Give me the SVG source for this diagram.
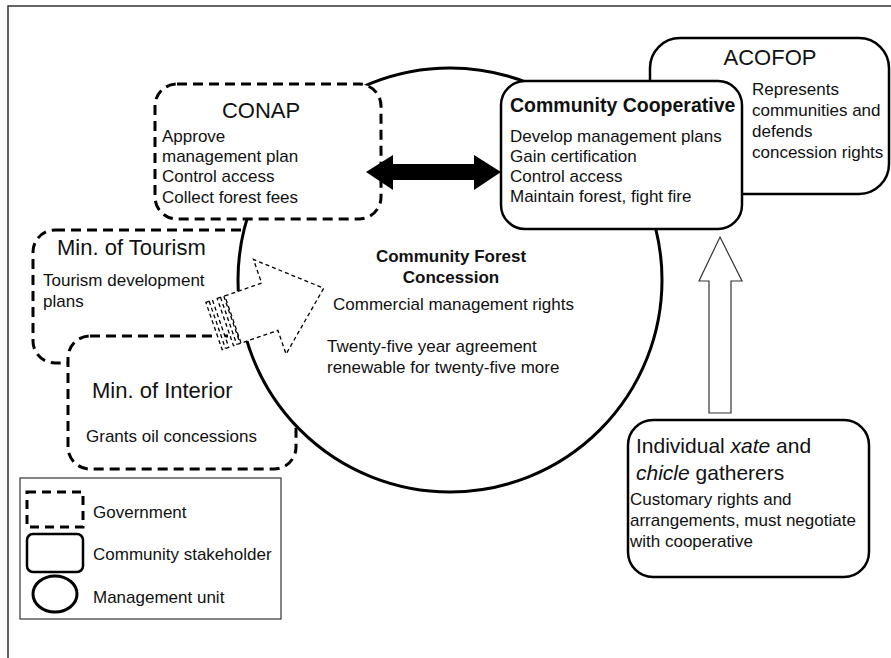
<svg xmlns="http://www.w3.org/2000/svg" width="891" height="658" viewBox="0 0 891 658">
<style>
text{font-family:"Liberation Sans",Arial,Helvetica,sans-serif;fill:#111;}
.t{font-size:22px;}
.b{font-size:17px;}
.gov{fill:#fff;stroke:#000;stroke-width:3;stroke-dasharray:10 6;}
.com{fill:#fff;stroke:#000;stroke-width:2.5;}
</style>
<rect width="891" height="658" fill="#fff"/>
<path d="M8,658 V6 H891" fill="none" stroke="#333" stroke-width="1.5"/>

<g id="tourism">
<rect class="gov" x="33" y="230" width="280" height="133" rx="22"/>
<text class="t" x="57" y="255">Min. of Tourism</text>
<text class="b" x="43" y="286">Tourism development</text>
<text class="b" x="43" y="307">plans</text>
</g>

<g id="interior">
<rect class="gov" x="68" y="336" width="228" height="133" rx="22"/>
<text class="t" x="92" y="398">Min. of Interior</text>
<text class="b" x="86" y="442">Grants oil concessions</text>
</g>

<g id="concession">
<circle cx="450" cy="280" r="212" fill="#fff" stroke="#000" stroke-width="3"/>
<text x="451" y="262" text-anchor="middle" font-size="17" font-weight="bold">Community Forest</text>
<text x="451" y="283" text-anchor="middle" font-size="17" font-weight="bold">Concession</text>
<text class="b" x="333" y="310">Commercial management rights</text>
<text class="b" x="327" y="352">Twenty-five year agreement</text>
<text class="b" x="327" y="373">renewable for twenty-five more</text>
</g>

<g id="conap">
<rect class="gov" x="155" y="84" width="226" height="135" rx="22"/>
<text class="t" x="261" y="118" text-anchor="middle">CONAP</text>
<text class="b" x="162" y="142">Approve</text>
<text class="b" x="162" y="162">management plan</text>
<text class="b" x="162" y="182">Control access</text>
<text class="b" x="162" y="203">Collect forest fees</text>
</g>

<g id="acofop">
<rect class="com" x="650" y="38" width="239" height="156" rx="30"/>
<text class="t" x="770" y="65" text-anchor="middle">ACOFOP</text>
<text class="b" x="752" y="95">Represents</text>
<text class="b" x="752" y="116">communities and</text>
<text class="b" x="752" y="137">defends</text>
<text class="b" x="752" y="158">concession rights</text>
</g>

<g id="cooperative">
<rect class="com" x="501" y="81" width="241" height="148" rx="24"/>
<text x="510" y="112" font-size="19.5" font-weight="bold">Community Cooperative</text>
<text class="b" x="510" y="142">Develop management plans</text>
<text class="b" x="510" y="162">Gain certification</text>
<text class="b" x="510" y="182">Control access</text>
<text class="b" x="510" y="202">Maintain forest, fight fire</text>
</g>

<g id="gatherers">
<rect class="com" x="628" y="420" width="241" height="157" rx="25"/>
<text x="636" y="453" font-size="21">Individual <tspan font-style="italic">xate</tspan> and</text>
<text x="636" y="480" font-size="21"><tspan font-style="italic">chicle</tspan> gatherers</text>
<text class="b" x="630" y="505">Customary rights and</text>
<text class="b" x="630" y="526">arrangements, must negotiate</text>
<text class="b" x="630" y="547">with cooperative</text>
</g>

<g id="connectors">
<polygon points="366,172 393,155 393,164 474,164 474,155 501,172 474,190 474,180 393,180 393,190" fill="#000"/>
<polygon points="720,237 742,281 731,281 731,413 709,413 709,281 699,281" fill="#fff" stroke="#333" stroke-width="1.2"/>
<g transform="translate(214,326) rotate(-19)" fill="none" stroke="#000" stroke-width="1.3" stroke-dasharray="4 3">
<path d="M20,-25 L59,-25 L59,-50 L116,0 L59,50 L59,25 L20,25 Z" fill="#fff"/>
<rect x="0" y="-25" width="7" height="50" fill="#fff"/>
<line x1="3.5" y1="-25" x2="3.5" y2="25"/>
<rect x="12" y="-25" width="7" height="50" fill="#fff"/>
<line x1="15.5" y1="-25" x2="15.5" y2="25"/>
</g>
</g>

<g id="legend">
<rect x="20" y="478" width="261" height="141" fill="#fff" stroke="#333" stroke-width="1.2"/>
<rect x="27" y="492" width="56" height="35" fill="#fff" stroke="#000" stroke-width="3" stroke-dasharray="9 6"/>
<text class="b" x="93" y="518">Government</text>
<rect x="27" y="534" width="56" height="38" rx="6" fill="#fff" stroke="#000" stroke-width="2.5"/>
<text class="b" x="93" y="560">Community stakeholder</text>
<ellipse cx="55" cy="594" rx="22" ry="18" fill="#fff" stroke="#000" stroke-width="3"/>
<text class="b" x="93" y="603">Management unit</text>
</g>
</svg>
